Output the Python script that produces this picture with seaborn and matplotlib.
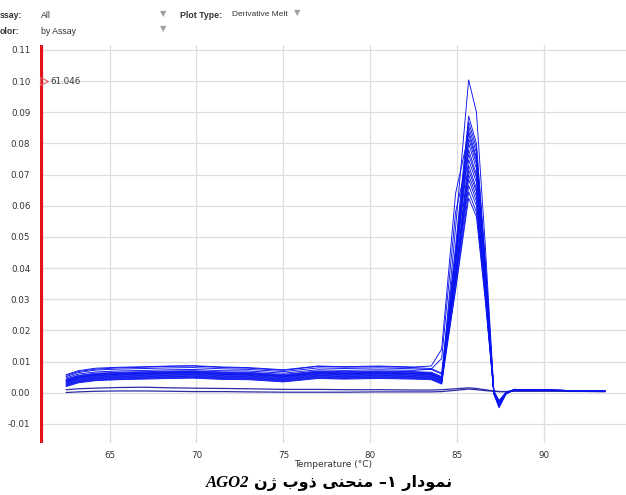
import numpy as np
import pandas as pd
import matplotlib
matplotlib.use('Agg')
import matplotlib.pyplot as plt
import seaborn as sns
from matplotlib.ticker import FormatStrFormatter, MultipleLocator

#melt data
temps = [62.5, 63.2, 64.2, 65.5, 67.0, 68.5, 69.8, 71.5, 73.0, 75.0, 77.0, 78.5, 80.5,
         82.5, 83.5, 84.1, 84.9, 85.65, 86.1, 86.6, 87.1, 87.4, 87.8, 88.3, 90.0, 93.5]

w01 = [0.0038, 0.0050, 0.0057, 0.0060, 0.0062, 0.0064, 0.0065, 0.0061, 0.0060, 0.0053, 0.0064, 0.0062, 0.0064,
       0.0062, 0.0060, 0.0046, 0.0530, 0.1004, 0.0900, 0.0480, 0.0008, -0.0028, 0.0001, 0.0010, 0.0009, 0.0005]
w02 = [0.0056, 0.0068, 0.0076, 0.0080, 0.0082, 0.0085, 0.0086, 0.0081, 0.0079, 0.0072, 0.0085, 0.0082, 0.0084,
       0.0081, 0.0078, 0.0063, 0.0470, 0.0888, 0.0800, 0.0430, 0.0004, -0.0032, 0.0000, 0.0011, 0.0009, 0.0005]
w03 = [0.0028, 0.0040, 0.0047, 0.0050, 0.0052, 0.0054, 0.0055, 0.0051, 0.0050, 0.0043, 0.0054, 0.0052, 0.0054,
       0.0052, 0.0050, 0.0036, 0.0450, 0.0870, 0.0785, 0.0420, -0.0002, -0.0040, -0.0002, 0.0010, 0.0008, 0.0005]
w04 = [0.0044, 0.0056, 0.0063, 0.0066, 0.0068, 0.0070, 0.0071, 0.0067, 0.0066, 0.0059, 0.0070, 0.0068, 0.0070,
       0.0068, 0.0066, 0.0052, 0.0445, 0.0855, 0.0770, 0.0410, 0.0002, -0.0035, 0.0000, 0.0010, 0.0009, 0.0005]
w05 = [0.0034, 0.0046, 0.0053, 0.0056, 0.0058, 0.0060, 0.0061, 0.0057, 0.0056, 0.0049, 0.0060, 0.0058, 0.0060,
       0.0058, 0.0056, 0.0042, 0.0435, 0.0840, 0.0755, 0.0405, -0.0004, -0.0045, -0.0003, 0.0010, 0.0008, 0.0005]
w06 = [0.0058, 0.0071, 0.0079, 0.0082, 0.0084, 0.0086, 0.0087, 0.0083, 0.0081, 0.0074, 0.0086, 0.0084, 0.0086,
       0.0083, 0.0086, 0.0140, 0.0640, 0.0830, 0.0745, 0.0395, 0.0003, -0.0025, 0.0001, 0.0010, 0.0009, 0.0005]
w07 = [0.0024, 0.0036, 0.0043, 0.0046, 0.0048, 0.0050, 0.0051, 0.0047, 0.0046, 0.0039, 0.0050, 0.0048, 0.0050,
       0.0048, 0.0046, 0.0032, 0.0420, 0.0815, 0.0735, 0.0390, 0.0000, -0.0038, -0.0001, 0.0010, 0.0008, 0.0005]
w08 = [0.0040, 0.0052, 0.0059, 0.0062, 0.0064, 0.0066, 0.0067, 0.0063, 0.0062, 0.0055, 0.0066, 0.0064, 0.0066,
       0.0064, 0.0062, 0.0048, 0.0415, 0.0800, 0.0720, 0.0385, 0.0001, -0.0030, 0.0000, 0.0011, 0.0009, 0.0005]
w09 = [0.0030, 0.0042, 0.0049, 0.0052, 0.0054, 0.0056, 0.0057, 0.0053, 0.0052, 0.0045, 0.0056, 0.0054, 0.0056,
       0.0054, 0.0052, 0.0038, 0.0405, 0.0780, 0.0700, 0.0375, -0.0003, -0.0042, -0.0002, 0.0010, 0.0008, 0.0005]
w10 = [0.0048, 0.0060, 0.0067, 0.0070, 0.0072, 0.0074, 0.0075, 0.0071, 0.0070, 0.0063, 0.0074, 0.0072, 0.0074,
       0.0072, 0.0076, 0.0110, 0.0580, 0.0765, 0.0690, 0.0365, 0.0002, -0.0028, 0.0000, 0.0010, 0.0009, 0.0005]
w11 = [0.0022, 0.0034, 0.0041, 0.0044, 0.0046, 0.0048, 0.0049, 0.0045, 0.0044, 0.0037, 0.0048, 0.0046, 0.0048,
       0.0046, 0.0044, 0.0030, 0.0385, 0.0748, 0.0675, 0.0360, -0.0001, -0.0036, -0.0001, 0.0010, 0.0008, 0.0005]
w12 = [0.0036, 0.0048, 0.0055, 0.0058, 0.0060, 0.0062, 0.0063, 0.0059, 0.0058, 0.0051, 0.0062, 0.0060, 0.0062,
       0.0060, 0.0058, 0.0044, 0.0380, 0.0730, 0.0655, 0.0350, 0.0000, -0.0033, 0.0000, 0.0010, 0.0009, 0.0005]
w13 = [0.0042, 0.0054, 0.0061, 0.0064, 0.0066, 0.0068, 0.0069, 0.0065, 0.0064, 0.0057, 0.0068, 0.0066, 0.0068,
       0.0066, 0.0064, 0.0050, 0.0375, 0.0715, 0.0645, 0.0345, 0.0002, -0.0027, 0.0001, 0.0011, 0.0009, 0.0005]
w14 = [0.0026, 0.0038, 0.0045, 0.0048, 0.0050, 0.0052, 0.0053, 0.0049, 0.0048, 0.0041, 0.0052, 0.0050, 0.0052,
       0.0050, 0.0048, 0.0034, 0.0365, 0.0700, 0.0630, 0.0335, -0.0002, -0.0040, -0.0002, 0.0010, 0.0008, 0.0005]
w15 = [0.0032, 0.0044, 0.0051, 0.0054, 0.0056, 0.0058, 0.0059, 0.0055, 0.0054, 0.0047, 0.0058, 0.0056, 0.0058,
       0.0056, 0.0054, 0.0040, 0.0360, 0.0685, 0.0615, 0.0330, 0.0000, -0.0034, 0.0000, 0.0010, 0.0008, 0.0005]
w16 = [0.0052, 0.0065, 0.0073, 0.0076, 0.0078, 0.0080, 0.0081, 0.0077, 0.0075, 0.0068, 0.0080, 0.0078, 0.0080,
       0.0077, 0.0075, 0.0060, 0.0355, 0.0665, 0.0600, 0.0320, 0.0003, -0.0026, 0.0001, 0.0011, 0.0009, 0.0005]
w17 = [0.0020, 0.0032, 0.0039, 0.0042, 0.0044, 0.0046, 0.0047, 0.0043, 0.0042, 0.0035, 0.0046, 0.0044, 0.0046,
       0.0044, 0.0042, 0.0028, 0.0335, 0.0645, 0.0580, 0.0310, -0.0003, -0.0048, -0.0004, 0.0010, 0.0008, 0.0005]
w18 = [0.0038, 0.0050, 0.0057, 0.0060, 0.0062, 0.0064, 0.0065, 0.0061, 0.0060, 0.0053, 0.0064, 0.0062, 0.0064,
       0.0062, 0.0060, 0.0046, 0.0330, 0.0625, 0.0565, 0.0300, 0.0000, -0.0030, 0.0000, 0.0010, 0.0009, 0.0005]

#no template controls
ntc1 = [0.0010, 0.0013, 0.0015, 0.0017, 0.0018, 0.0016, 0.0015, 0.0014, 0.0013, 0.0011, 0.0011, 0.0010, 0.0010,
        0.0009, 0.0009, 0.0010, 0.0013, 0.0016, 0.0014, 0.0010, 0.0006, 0.0004, 0.0004, 0.0006, 0.0006, 0.0004]
ntc2 = [0.0001, 0.0003, 0.0005, 0.0006, 0.0006, 0.0005, 0.0004, 0.0004, 0.0003, 0.0002, 0.0002, 0.0002, 0.0003,
        0.0003, 0.0003, 0.0004, 0.0008, 0.0012, 0.0010, 0.0007, 0.0005, 0.0004, 0.0004, 0.0005, 0.0005, 0.0004]

wells = [w01, w02, w03, w04, w05, w06, w07, w08, w09, w10, w11, w12, w13, w14, w15, w16, w17, w18]
controls = [ntc1, ntc2]
cursor_temp = 61.046

#long table for seaborn
rows = []
for i, w in enumerate(wells):
    for t, v in zip(temps, w):
        rows.append({'well': f'S{i+1}', 'temp': t, 'value': v})
df = pd.DataFrame(rows)

rows = []
for i, w in enumerate(controls):
    for t, v in zip(temps, w):
        rows.append({'well': f'N{i+1}', 'temp': t, 'value': v})
df_ntc = pd.DataFrame(rows)

sns.set_style('whitegrid', {'grid.color': '#dedede'})
plt.rcParams['font.family'] = ['DejaVu Sans']
plt.rcParams['axes.unicode_minus'] = False

fig = plt.figure(figsize=(6.26, 4.95), dpi=100)
ax = fig.add_axes([40/626, 1-443/495, 586/626, 398/495])

sns.lineplot(data=df_ntc, x='temp', y='value', units='well', estimator=None,
             color='#2b2ba8', lw=0.9, ax=ax, legend=False)
sns.lineplot(data=df, x='temp', y='value', units='well', estimator=None,
             color='#0a14f0', lw=0.65, ax=ax, legend=False)

ax.set_xlim(61.0, 94.7)
ax.set_ylim(-0.0161, 0.1116)
ax.xaxis.set_major_locator(MultipleLocator(5))
ax.yaxis.set_major_locator(MultipleLocator(0.01))
ax.yaxis.set_major_formatter(FormatStrFormatter('%.2f'))
ax.grid(True, color='#dedede', lw=0.9)
for s in ax.spines.values():
    s.set_visible(False)
ax.tick_params(axis='both', length=5, width=0.8, color='#d0d0d0',
               labelsize=6.3, labelcolor='#333333', pad=2)
ax.tick_params(axis='x', pad=0.5)
ax.set_xlabel('Temperature (°C)', fontsize=6.5, color='#333333', labelpad=0)
ax.set_ylabel('')

#cursor line
ax.axvline(cursor_temp, color='#e3121b', lw=3)
ax.plot([61.25], [0.100], marker='>', ms=6, mfc='none', mec='#e06060', mew=0.8, clip_on=False)
ax.text(61.6, 0.100, f'{cursor_temp:.3f}', fontsize=6.3, color='#333333', va='center')

#header bar
hy1 = 1 - 15/495
hy2 = 1 - 31/495
hfont = ['Liberation Sans']
fig.text(0.0, hy1, 'ssay:', fontsize=6.3, fontweight='bold', color='#333333', va='center', family=hfont)
fig.text(41/626, hy1, 'All', fontsize=6.3, color='#333333', va='center', family=hfont)
fig.text(0.0, hy2, 'olor:', fontsize=6.3, fontweight='bold', color='#333333', va='center', family=hfont)
fig.text(41/626, hy2, 'by Assay', fontsize=6.3, color='#333333', va='center', family=hfont)
fig.text(180/626, hy1, 'Plot Type:', fontsize=6.3, fontweight='bold', color='#333333', va='center', family=hfont)
fig.text(232/626, hy1, 'Derivative Melt', fontsize=6.0, color='#333333', va='center', family=hfont)
for (x, y) in [(163, 14), (163, 29), (297, 13)]:
    fig.text(x/626, 1 - y/495, '\u25BC', fontsize=6, color='#a0a0a0', va='center', ha='center')

#caption, Persian text in visual order with presentation forms
caption_fa = ('\uFEE5\u0698 \uFE8F\uFEED\uFEAB \uFEF0\uFEE8\uFEA4\uFEE8\uFEE3 '
              '\u2013\u06F1 \uFEAD\uFE8D\uFEA9\uFEEE\uFEE4\uFEE7')
cy = 1 - 483/495
t = fig.text(452/626, cy, caption_fa, fontsize=11.5, fontweight='bold', color='black',
             ha='right', va='center', family=['DejaVu Sans'])
fig.canvas.draw()
bb = t.get_window_extent()
fig.text((bb.x0 - 5) / fig.bbox.width, cy, 'AGO2', fontsize=12, fontweight='bold', style='italic',
         color='black', ha='right', va='center', family=['Liberation Serif'])

fig.savefig('out.png', dpi=100)
